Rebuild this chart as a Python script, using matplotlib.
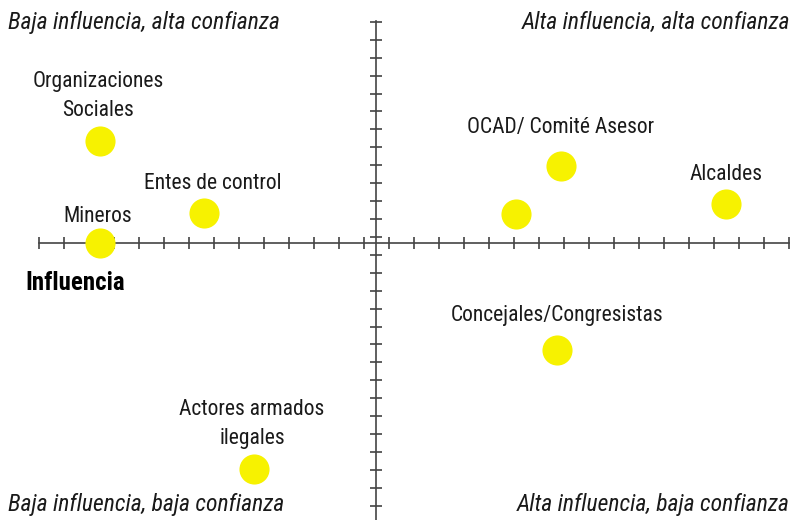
import numpy as np
import matplotlib.pyplot as plt

# actores: influencia (x) y confianza (y), relativos al cruce de ejes
actores = ["Organizaciones\nSociales", "Entes de control", "Mineros",
           "OCAD/ Comité Asesor", "", "Alcaldes",
           "Concejales/Congresistas", "Actores armados\nilegales"]
influencia = [-11.04, -6.88, -11.04, 7.4, 5.6, 14.0, 7.24, -4.88]
confianza = [5.7, 1.68, 0.0, 4.3, 1.62, 2.18, -5.98, -12.63]

cuadrantes = ["Baja influencia, alta confianza", "Alta influencia, alta confianza",
              "Baja influencia, baja confianza", "Alta influencia, baja confianza"]

# desplazamiento de cada etiqueta respecto al punto (pixeles, hasta la linea base)
offsets = [(-2, 25), (9, 24), (-2, 21), (0, 33), (0, 0), (0, 24), (0, 29), (-2, 25)]

plt.rcParams['font.family'] = ['Roboto Condensed', 'DejaVu Sans']

fig = plt.figure(figsize=(7.94, 5.20), dpi=100)
ax = fig.add_axes([0, 0, 1, 1])
ax.set_xlim(-376 / 25, (794 - 376) / 25)
ax.set_ylim(-(520 - 243) / 17.9, 243 / 17.9)

for s in ['top', 'right']:
    ax.spines[s].set_visible(False)
ax.spines['left'].set_position(('data', 0))
ax.spines['bottom'].set_position(('data', 0))
ax.spines['bottom'].set_bounds(-13.5, 16.5)
ax.spines['left'].set_bounds(-15.6, 12.4)
for s in ['left', 'bottom']:
    ax.spines[s].set_color('#444444')
    ax.spines[s].set_linewidth(1.2)

ax.set_xticks(np.arange(-13.5, 16.6, 1))
yt = np.concatenate([0.35 + np.arange(0, 13), -0.67 - np.arange(0, 15)])
ax.set_yticks(yt)
ax.tick_params(direction='inout', length=8, width=1.1, color='#333333',
               labelbottom=False, labelleft=False)

ax.scatter(influencia, confianza, s=470, color='#f7f200', zorder=3, linewidths=0)

for name, x, y, off in zip(actores, influencia, confianza, offsets):
    if not name:
        continue
    ax.annotate(name, (x, y), xytext=off, textcoords='offset pixels',
                ha='center', va='baseline', fontsize=15.5, color='#1a1a1a',
                linespacing=1.5, multialignment='center')

ax.text(-14.04, -2.25, "Influencia", fontsize=18, fontweight='bold',
        va='center', ha='left', color='black')

kw = dict(fontsize=17, style='italic', color='#1a1a1a')
fig.text(8 / 794, 1 - 22 / 520, cuadrantes[0], ha='left', va='center', **kw)
fig.text(790 / 794, 1 - 22 / 520, cuadrantes[1], ha='right', va='center', **kw)
fig.text(8 / 794, 1 - 505 / 520, cuadrantes[2], ha='left', va='center', **kw)
fig.text(790 / 794, 1 - 505 / 520, cuadrantes[3], ha='right', va='center', **kw)

fig.savefig('out.png', dpi=100)
